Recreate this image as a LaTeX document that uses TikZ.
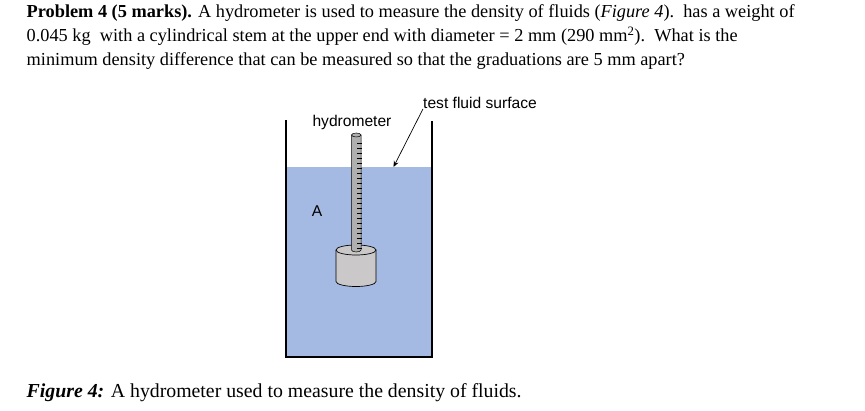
\documentclass[tikz,border=0pt]{standalone}
\usepackage{fontspec}
\setmainfont{Liberation Serif}
\setsansfont{Liberation Sans}
\usetikzlibrary{arrows.meta}
\definecolor{fluidblue}{RGB}{164,186,226}
\definecolor{stemgrey}{RGB}{176,175,175}
\definecolor{bulbgrey}{RGB}{202,200,200}
\tikzset{
    bodytext/.style={anchor=base west, inner sep=0pt, font=\fontsize{18.3}{23}\selectfont},
    captiontext/.style={anchor=base west, inner sep=0pt, font=\fontsize{19.8}{23}\selectfont},
    sidelabel/.style={inner sep=0pt, font=\sffamily\fontsize{15.6}{18}\selectfont},
}
\begin{document}
\begin{tikzpicture}[x=1pt,y=-1pt]
\useasboundingbox (0,0) rectangle (865,411);
\fill[white] (0,0) rectangle (865,411);
\node[bodytext] (lineone) at (26.5,18) {\textbf{Problem 4 (5 marks).} A hydrometer is used to measure the density of fluids (\textit{Figure 4}).\ \ has a weight of};
\node[bodytext] (linetwo) at (26.5,42) {0.045 kg\ \ with a cylindrical stem at the upper end with diameter = 2 mm (290 mm\textsuperscript{2}).\ \ What is the};
\node[bodytext] (linethree) at (26.5,66) {minimum density difference that can be measured so that the graduations are 5 mm apart?};
\node[captiontext] (caption) at (26.5,398) {\textbf{\textit{Figure 4:}} A hydrometer used to measure the density of fluids.};
% fluid and tank
\fill[fluidblue] (286,167) rectangle (432,357);
\draw[line width=1.6pt] (286,120)--(286,357)--(432,357)--(432,121);
% bulb
\draw[fill=bulbgrey, line width=0.7pt] (336,250)--(336,281.5) arc[start angle=180, end angle=0, x radius=20, y radius=5]--(376,250);
\draw[fill=bulbgrey, line width=0.7pt] (356,250) ellipse[x radius=20, y radius=5];
% stem
\draw[fill=stemgrey, line width=0.5pt] (351.5,135)--(351.5,250) arc[start angle=180, end angle=0, x radius=4.75, y radius=2]--(361,135);
\draw[fill=stemgrey, line width=0.5pt] (356.25,135) ellipse[x radius=4.75, y radius=2];
\foreach \y in {0,...,21}
    \draw[line width=0.9pt] (357,143+5*\y)--(361.5,143+5*\y);
% labels
\node[sidelabel] (hydrometer) at (352,122.5) {hydrometer};
\node[sidelabel] (letterA) at (317,211) {A};
\node[sidelabel, anchor=west] (surface) at (423,103) {test fluid surface};
\coordinate (surfacepoint) at (393.5,167);
\draw[-{Stealth[length=6pt,width=5pt]}, line width=0.7pt] (surface.south west)--(surfacepoint);
\end{tikzpicture}
\end{document}
